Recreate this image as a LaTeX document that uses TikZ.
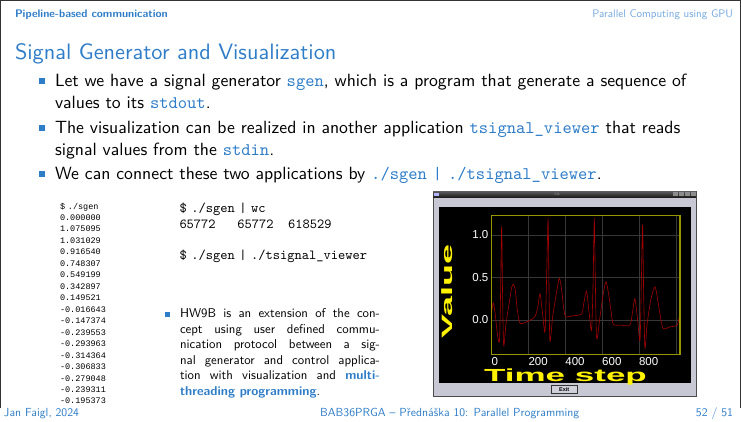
\documentclass[tikz,border=0pt]{standalone}
\usepackage{fontspec}
\setsansfont{lmsans10-regular.otf}[BoldFont=lmsans10-bold.otf]
\setmonofont{lmmono10-regular.otf}
\newfontfamily\listfont{Liberation Mono}
\newfontfamily\plotfont{Liberation Sans}
\usetikzlibrary{positioning,calc}

\definecolor{slideblue}{RGB}{46,125,200}
\definecolor{headblue}{RGB}{115,168,222}
\definecolor{wingray}{RGB}{200,200,212}
\definecolor{plotframe}{RGB}{150,150,0}
\definecolor{plotgrid}{RGB}{55,55,55}
\definecolor{signalred}{RGB}{165,0,0}

\newcommand{\shellcmd}[1]{\textcolor{slideblue}{\texttt{#1}}}

\begin{document}
\begin{tikzpicture}[x=1pt,y=-1pt,
    every node/.style={inner sep=0pt,outer sep=0pt},
    body/.style={anchor=base west,text width=685pt,align=left,font=\sffamily\fontsize{17.7}{21.5}\selectfont},
    foot/.style={text=slideblue,font=\sffamily\fontsize{11.7}{12}\selectfont},
    head/.style={text=slideblue,font=\sffamily\fontsize{11}{12}\selectfont},
    bulletsq/.style={fill=slideblue,minimum size=6pt},
    ticklabel/.style={text=white,font=\plotfont\fontsize{11.5}{12}\selectfont},
    axislabel/.style={text=yellow,font=\plotfont\bfseries\fontsize{17.5}{18}\selectfont},
    gridline/.style={plotgrid,line width=0.4pt}]
  \useasboundingbox (0,0) rectangle (741,422);
  \draw[black!80,line width=1pt] (0.5,408) -- (0.5,0.5) -- (740.5,0.5) -- (740.5,408);

  % head and foot lines
  \node[head,anchor=base west,font=\sffamily\bfseries\fontsize{11}{12}\selectfont] (section) at (15,18) {Pipeline-based communication};
  \node[head,anchor=base east,text=headblue] (course) at (733,18) {Parallel Computing using GPU};
  \node[anchor=base west,text=slideblue,font=\sffamily\fontsize{22.3}{26}\selectfont] (title) at (15,59.3) {Signal Generator and Visualization};
  \node[foot,anchor=base west] (author) at (4,416.7) {Jan Faigl, 2024};
  \node[foot,anchor=base west] (lecture) at (320,416.7) {BAB36PRGA -- Přednáška 10: Parallel Programming};
  \node[foot,anchor=base east] (page) at (733,416.7) {52 / 51};

  % bullets
  \node[bulletsq] (b1) at (42,81) {};
  \node[body] (item1) at (55,87) {Let we have a signal generator \shellcmd{sgen}, which is a program that generate a sequence of\\values to its \shellcmd{stdout}.};
  \node[bulletsq] (b2) at (42,128) {};
  \node[body] (item2) at (55,134) {The visualization can be realized in another application \shellcmd{tsignal\_viewer} that reads\\signal values from the \shellcmd{stdin}.};
  \node[bulletsq] (b3) at (42,174) {};
  \node[body] (item3) at (55,180) {We can connect these two applications by \shellcmd{./sgen | ./tsignal\_viewer}.};

  % program output
  \node[anchor=base west,text width=70pt,align=left,font=\listfont\fontsize{8.5}{11.47}\selectfont] (sgenout) at (60,209) {\$ ./sgen\\0.000000\\1.075095\\1.031029\\0.916540\\0.748307\\0.549199\\0.342897\\0.149521\\-0.016643\\-0.147374\\-0.239553\\-0.293963\\-0.314364\\-0.306833\\-0.279048\\-0.239311\\-0.195373};
  \node[anchor=base west,text width=220pt,align=left,font=\ttfamily\fontsize{13.8}{15.5}\selectfont] (wcout) at (179.5,212.5) {\$ ./sgen | wc\\65772\phantom{000}65772\phantom{00}618529\\[15.5pt]\$ ./sgen | ./tsignal\_viewer};

  \node[bulletsq,minimum size=5pt] (b4) at (167.5,314.2) {};
  \node[anchor=base west,text width=200pt,align=justify,font=\sffamily\fontsize{12.8}{15.55}\selectfont] (hw) at (180,317.6) {HW9B is an extension of the con-\linebreak cept using user defined commu-\linebreak nication protocol between a sig-\linebreak nal generator and control applica-\linebreak tion with visualization and \textcolor{slideblue}{\bfseries multi-}\linebreak\textcolor{slideblue}{\bfseries threading programming}.};

  % viewer window
  \draw[black!70,fill=wingray,line width=0.6pt] (433,191.5) rectangle (696,396.5);
  \shade[top color=black!65,bottom color=black!90] (433,191.5) rectangle (696,197.5);
  \node[fill=white!70!blue,minimum width=5pt,minimum height=3.5pt] (winicon) at (436.5,194.5) {};
  \foreach \i in {0,1,2,3}
    \node[fill=black!45,minimum width=5pt,minimum height=4pt] (winbtn\i) at (675+6*\i,194.5) {};
  \node[text=black!45,font=\plotfont\fontsize{3.5}{4}\selectfont] (wintitle) at (557,194.5) {Gtk};
  \fill[black] (439,206.7) rectangle (690.7,382.7);
  \node[draw=black!80,fill=wingray!85!white,line width=0.8pt,minimum width=26pt,minimum height=8pt,font=\plotfont\bfseries\fontsize{5.5}{6}\selectfont] (exit) at (564.2,389.2) {Exit};

  % plot area
  \begin{scope}[shift={(491.7,320)},x=0.1842pt,y=85pt]
    \foreach \t in {200,400,...,1000}
      \draw[gridline] (\t,-0.404) -- (\t,1.227);
    \foreach \v in {0,0.5,1}
      \draw[gridline] (0,\v) -- (1022,\v);
    \draw[signalred,line width=0.6pt] plot[smooth,tension=0.45] coordinates {
      (0,0.10) (9,0.20) (20,0.05) (30,-0.15) (42,-0.25) (48,0.3) (54,1.10) (59,0.3)
      (65,-0.30) (78,-0.04) (95,0.2) (108,0.38) (118,0.42) (128,0.35) (140,0.1)
      (154,-0.04) (180,-0.03) (210,0.0) (235,0.04) (250,0.15) (262,0.31) (275,0.1)
      (289,-0.14) (297,0.4) (306,1.18) (311,0.4) (316,-0.25) (331,0.04) (350,0.3)
      (367,0.49) (380,0.35) (390,0.15) (401,0.04) (440,0.05) (488,0.07) (500,0.2)
      (515,0.34) (528,0.1) (542,-0.12) (550,0.4) (557,1.18) (563,0.4) (570,-0.22)
      (588,0.04) (605,0.3) (620,0.45) (635,0.3) (648,0.1) (660,-0.05) (700,-0.06)
      (750,-0.06) (765,0.1) (777,0.25) (790,0.05) (805,-0.24) (812,0.4) (819,1.12)
      (825,0.3) (832,-0.33) (844,-0.04) (865,0.25) (886,0.39) (900,0.25) (915,0.05)
      (931,-0.1) (970,-0.08) (1007,-0.06) (1018,0.04)};
    \draw[plotframe,line width=1.2pt] (0,-0.404) rectangle (1022,1.227);
    \foreach \v/\l in {0/0.0,0.5/0.5,1/1.0}
      \node[ticklabel,anchor=east] (ytick\v) at (-18,\v) {\l};
    \foreach \t in {0,200,...,800}
      \node[ticklabel,anchor=base west] (xtick\t) at (\t,-0.54) {\t};
  \end{scope}
  \node[axislabel,anchor=base] (xlabel) at (565.5,381) {\scalebox{2}[1]{Time step}};
  \node[axislabel,font=\plotfont\bfseries\fontsize{15}{16}\selectfont] (ylabel) at (446.7,291.5) {\rotatebox{90}{\scalebox{2.4}[1]{Value}}};
\end{tikzpicture}
\end{document}
